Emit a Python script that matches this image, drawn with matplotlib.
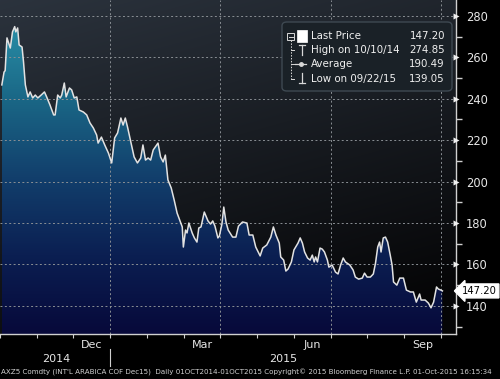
import numpy as np
import matplotlib
matplotlib.use("Agg")
import matplotlib.pyplot as plt
from matplotlib.colors import LinearSegmentedColormap
from matplotlib.patches import FancyBboxPatch, Rectangle
from matplotlib.lines import Line2D
import matplotlib.transforms as mtransforms

# ---- data: months since 1-Oct-2014, price (US cents/lb) ----
months = [0.05, 0.11, 0.14, 0.19, 0.28, 0.34, 0.40, 0.43, 0.48, 0.52, 0.60, 0.64, 0.69,
          0.76, 0.82, 0.89, 0.96, 1.03, 1.12, 1.21, 1.27, 1.36, 1.46, 1.50, 1.57, 1.64,
          1.68, 1.75, 1.80, 1.89, 1.95, 2.02, 2.09, 2.15, 2.27, 2.36, 2.45, 2.54, 2.63,
          2.67, 2.76, 2.85, 2.95, 3.04, 3.12, 3.20, 3.29, 3.35, 3.41, 3.47, 3.56, 3.65,
          3.74, 3.83, 3.89, 3.96, 4.03, 4.10, 4.17, 4.30, 4.37, 4.44, 4.50, 4.57, 4.66,
          4.74, 4.82, 4.89, 4.96, 4.99, 5.05, 5.09, 5.14, 5.23, 5.29, 5.36, 5.41, 5.47,
          5.56, 5.66, 5.73, 5.79, 5.85, 5.93, 5.97, 6.04, 6.09, 6.15, 6.21, 6.33, 6.42,
          6.49, 6.60, 6.72, 6.78, 6.88, 6.96, 7.08, 7.15, 7.26, 7.37, 7.44, 7.51, 7.60,
          7.64, 7.72, 7.78, 7.84, 7.93, 8.00, 8.11, 8.17, 8.23, 8.29, 8.37, 8.44, 8.50,
          8.55, 8.59, 8.64, 8.71, 8.77, 8.83, 8.91, 8.95, 9.04, 9.13, 9.20, 9.27, 9.34,
          9.40, 9.52, 9.61, 9.67, 9.76, 9.86, 9.92, 9.99, 10.08, 10.16, 10.22, 10.28,
          10.33, 10.37, 10.43, 10.49, 10.55, 10.62, 10.67, 10.71, 10.80, 10.88, 10.98,
          11.06, 11.17, 11.25, 11.33, 11.42, 11.46, 11.57, 11.66, 11.73, 11.80, 11.88,
          11.93, 12.00, 12.04]
prices = [246.7, 252.9, 253.6, 269.4, 264.5, 272.3, 274.85, 272.3, 274.2, 266.0, 265.0, 257.8, 246.7,
          240.9, 243.3, 240.4, 241.8, 240.4, 241.8, 243.3, 240.9, 237.0, 232.2, 232.2, 241.8, 240.4,
          241.8, 247.6, 240.9, 245.2, 244.3, 240.4, 240.9, 234.6, 233.6, 232.2, 228.3, 225.9, 222.5,
          218.6, 221.5, 217.7, 213.8, 209.0, 221.1, 223.5, 230.7, 227.3, 230.7, 226.4, 219.1, 211.9,
          209.0, 211.4, 217.7, 210.4, 211.4, 210.4, 215.3, 218.6, 211.9, 209.5, 212.8, 200.8, 196.9,
          191.1, 184.8, 181.4, 178.1, 168.4, 176.6, 175.2, 180.0, 175.2, 172.8, 170.8, 177.6, 178.1,
          185.3, 181.0, 179.5, 181.0, 178.5, 172.8, 173.7, 179.5, 187.7, 180.5, 176.6, 173.2, 173.2,
          178.5, 180.5, 180.0, 174.2, 174.2, 168.4, 164.1, 167.9, 169.4, 173.2, 178.1, 174.2, 170.3,
          163.6, 162.1, 156.8, 157.8, 161.2, 167.0, 170.3, 172.8, 170.3, 166.0, 163.1, 162.1, 164.5,
          161.2, 163.6, 161.2, 167.9, 167.4, 166.0, 162.1, 158.7, 159.7, 156.3, 155.4, 159.7, 163.1,
          161.2, 159.7, 157.3, 153.9, 152.9, 153.4, 155.8, 153.9, 153.9, 155.4, 160.7, 168.4,
          170.8, 166.0, 172.8, 173.2, 170.8, 164.5, 159.7, 151.5, 150.0, 153.4, 153.4,
          147.6, 146.7, 146.7, 141.8, 145.7, 142.8, 142.8, 141.3, 139.05, 141.8, 149.1,
          148.1, 147.6, 147.2]

month_labels = ["Dec", "Mar", "Jun", "Sep"]
month_label_pos = [2.5, 5.5, 8.5, 11.5]
year_labels = ["2014", "2015"]
year_label_pos = [1.52, 7.7]
y_ticks = [140, 160, 180, 200, 220, 240, 260, 280]
legend_labels = ["Last Price", "High on 10/10/14", "Average", "Low on 09/22/15"]
legend_values = ["147.20", "274.85", "190.49", "139.05"]
last_price = 147.20
footer = ("AXZ5 Comdty (INT'L ARABICA COF Dec15)  Daily 01OCT2014-01OCT2015 "
          "Copyright\u00a9 2015 Bloomberg Finance L.P. 01-Oct-2015 16:15:34")

W, H = 500, 379
fig = plt.figure(figsize=(W / 100, H / 100), dpi=100, facecolor="black")

def fx(x):
    return x / W

def fy(y):
    return 1 - y / H

ax = fig.add_axes([0, fy(334), fx(456), (334) / H])
XMIN, XMAX = 0.054, 12.41
YMIN, YMAX = 126.4, 287.7
ax.set_xlim(XMIN, XMAX)
ax.set_ylim(YMIN, YMAX)
ax.set_facecolor("black")

# background gradient
ny, nx = 200, 200
vy = np.linspace(0, 1, ny)[:, None]
hx = np.linspace(0, 1, nx)[None, :]
t = np.clip(0.8 * vy + 0.3 * hx, 0, 1)
top = np.array([0.17, 0.20, 0.24])
bot = np.array([0.02, 0.02, 0.025])
bg = top[None, None, :] * (1 - t[..., None]) + bot[None, None, :] * t[..., None]
ax.imshow(bg, extent=[0, 1, 0, 1], transform=ax.transAxes, aspect="auto",
          zorder=0, interpolation="bilinear")

# fill under curve with vertical gradient
cmap = LinearSegmentedColormap.from_list(
    "fillgrad", [(0.0, "#07093a"), (0.25, "#0b1f52"), (0.5, "#123f6c"),
                 (0.75, "#1a6786"), (1.0, "#2a90a8")])
grad = np.linspace(1, 0, 256)[:, None]
poly = ax.fill_between(months, prices, YMIN, facecolor="none", edgecolor="none")
im = ax.imshow(grad, extent=[XMIN, XMAX, YMIN, 278], aspect="auto", cmap=cmap,
               vmin=0, vmax=1, zorder=1, interpolation="bilinear")
im.set_clip_path(poly.get_paths()[0], transform=ax.transData)

ax.plot(months, prices, color="#e2e2e2", lw=1.1, zorder=3)

# grid
for yv in y_ticks:
    ax.axhline(yv, color="#8a8f94", lw=0.7, ls=(0, (2, 2.5)), zorder=2)
for xv in [3, 6, 9, 12]:
    ax.axvline(xv, color="#8a8f94", lw=0.7, ls=(0, (2, 2.5)), zorder=2)

for s in ["top", "left"]:
    ax.spines[s].set_visible(False)
ax.spines["right"].set_color("#d0d0d0")
ax.spines["bottom"].set_color("#d0d0d0")
ax.spines["right"].set_linewidth(1.0)
ax.spines["bottom"].set_linewidth(1.0)

# y axis on the right
ax.yaxis.tick_right()
ax.set_yticks(y_ticks)
ax.set_yticklabels([str(v) for v in y_ticks], color="#e6e6e6", fontsize=8.3)
ax.tick_params(axis="y", which="major", length=0, pad=7)
ax.set_yticks([v + 10 for v in y_ticks[:-1]] + [130], minor=True)
ax.tick_params(axis="y", which="minor", length=4, width=1, color="#d0d0d0", direction="out")
trans_y = mtransforms.blended_transform_factory(ax.transAxes, ax.transData)
ax.plot([1.0] * len(y_ticks), y_ticks, ls="none", marker=">", ms=4.5, color="#f0f0f0",
        mec="none", transform=trans_y, clip_on=False, zorder=5)

# x axis
ax.set_xticks(list(range(0, 13)))
ax.set_xticklabels([""] * 13)
ax.tick_params(axis="x", which="major", length=3, width=0.8, color="#d0d0d0", direction="out")
ax.set_xticks(month_label_pos, minor=True)
ax.set_xticklabels(month_labels, minor=True, color="#e6e6e6", fontsize=8)
ax.tick_params(axis="x", which="minor", length=0, pad=4)
trans_x = mtransforms.blended_transform_factory(ax.transData, fig.transFigure)
for lab, pos in zip(year_labels, year_label_pos):
    ax.text(pos, fy(359), lab, transform=trans_x, color="#e6e6e6", fontsize=8,
            ha="center", va="center")
ax.add_line(Line2D([3, 3], [fy(349), fy(366)], transform=trans_x, color="#d0d0d0",
                   lw=0.8, clip_on=False))

# last price tag
tag_tr = mtransforms.blended_transform_factory(fig.transFigure, ax.transData)
ax.text(fx(462), last_price, f"{last_price:.2f}", transform=tag_tr,
        fontsize=7.2, color="black", va="center", ha="left",
        bbox=dict(boxstyle="larrow,pad=0.2", fc="white", ec="white"),
        clip_on=False, zorder=6)

# legend
leg = FancyBboxPatch((fx(282), fy(91)), fx(452) - fx(282), fy(22) - fy(91),
                     boxstyle="round,pad=0,rounding_size=0.01", transform=fig.transFigure,
                     fc="#1a2127", ec="#3e4952", lw=1.0, zorder=10)
fig.patches.append(leg)
rows_y = [36, 50, 64, 79]
for lab, val, ry in zip(legend_labels, legend_values, rows_y):
    fig.text(fx(311), fy(ry), lab, color="#f0f0f0", fontsize=7.4, va="center", ha="left", zorder=11)
    fig.text(fx(445), fy(ry), val, color="#f0f0f0", fontsize=7.4, va="center", ha="right", zorder=11)

def fline(xs, ys, lw=0.9, color="#d8d8d8", ls="-"):
    fig.lines.append(Line2D([fx(v) for v in xs], [fy(v) for v in ys], transform=fig.transFigure,
                            color=color, lw=lw, ls=ls, zorder=11))

# tree structure
fig.patches.append(Rectangle((fx(287), fy(40)), fx(7), fy(33) - fy(40), transform=fig.transFigure,
                             fc="none", ec="#d8d8d8", lw=0.7, zorder=11))
fline([288.5, 292.5], [36.5, 36.5], lw=0.7)
fline([290.5, 290.5], [40, 79], lw=0.7, ls=(0, (1.5, 1.5)))
for ry in rows_y[1:]:
    fline([290.5, 294], [ry, ry], lw=0.7)
# square icon
fig.patches.append(Rectangle((fx(297), fy(42)), fx(10), fy(30) - fy(42), transform=fig.transFigure,
                             fc="white", ec="white", lw=0.5, zorder=11))
# high icon (T)
fline([299, 305], [45, 45])
fline([302, 302], [45, 55])
# average icon
fline([295, 306], [64, 64])
fig.lines.append(Line2D([fx(300.5)], [fy(64)], transform=fig.transFigure, marker="o", ms=2.5,
                        color="#d8d8d8", zorder=11))
# low icon
fline([302, 302], [73, 83])
fline([299, 305], [83, 83])

fig.text(fx(1), fy(372), footer, color="#d0d0d0", fontsize=5.12, va="center", ha="left")

fig.savefig("out.png", dpi=100, facecolor="black")
